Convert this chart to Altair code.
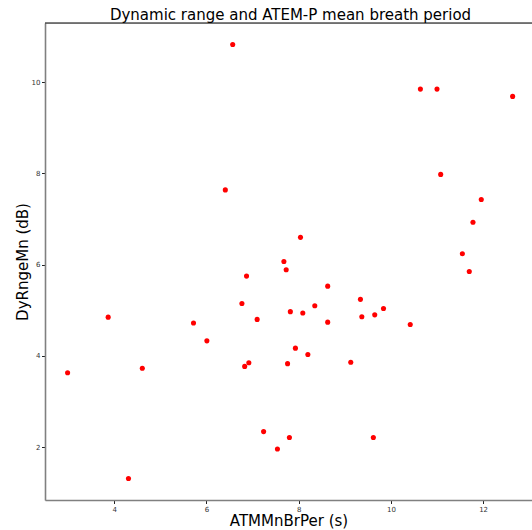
import altair as alt
import pandas as pd

# Data
atm_mn_br_per = [2.99, 3.87, 4.31, 4.61, 5.72, 6.01, 6.41, 6.57, 6.77, 6.83,
                 6.87, 6.92, 7.10, 7.24, 7.54, 7.68, 7.73, 7.76, 7.80, 7.82,
                 7.93, 8.04, 8.09, 8.20, 8.35, 8.63, 8.63, 9.13, 9.34, 9.37,
                 9.62, 9.65, 9.84, 10.42, 10.64, 11.00, 11.08, 11.55, 11.70, 11.78,
                 11.96, 12.64]
dy_rnge_mn = [3.63, 4.85, 1.31, 3.73, 4.72, 4.33, 7.64, 10.83, 5.15, 3.77,
              5.75, 3.85, 4.80, 2.34, 1.96, 6.07, 5.89, 3.83, 2.21, 4.97,
              4.17, 6.60, 4.94, 4.03, 5.10, 5.53, 4.74, 3.86, 5.24, 4.86,
              2.21, 4.90, 5.04, 4.69, 9.85, 9.85, 7.98, 6.24, 5.85, 6.93,
              7.43, 9.69]
x_ticks = [4, 6, 8, 10, 12]
y_ticks = [2, 4, 6, 8, 10]

df = pd.DataFrame({"ATMMnBrPer": atm_mn_br_per, "DyRngeMn": dy_rnge_mn})

W, H = 487, 477
FONT = "DejaVu Sans"

axis_common = dict(
    domainColor="#808080", domainWidth=1.6,
    tickColor="#222222", tickSize=3.5, tickWidth=1,
    labelFont=FONT, labelFontSize=7, labelColor="#333333", labelPadding=1.5,
    grid=False,
    titleFont=FONT, titleFontSize=15, titleFontWeight="normal", titleColor="#000000",
)

points = alt.Chart(df).mark_circle(color="#ff0000", size=26, opacity=1).encode(
    x=alt.X("ATMMnBrPer:Q",
            scale=alt.Scale(domain=[2.5, 13.06], nice=False, zero=False),
            axis=alt.Axis(values=x_ticks, title="ATMMnBrPer (s)",
                          titleY=25.5, titleBaseline="alphabetic", **axis_common)),
    y=alt.Y("DyRngeMn:Q",
            scale=alt.Scale(domain=[0.84, 11.30], nice=False, zero=False),
            axis=alt.Axis(values=y_ticks, title="DyRngeMn (dB)",
                          titleX=-23, titleY=H / 2, titleBaseline="middle",
                          **axis_common)),
)

top_spine = alt.Chart(pd.DataFrame({"k": [0]})).mark_rule(
    color="#000000", strokeWidth=1.2
).encode(x=alt.value(0), x2=alt.value(W), y=alt.value(0))

chart = alt.layer(points, top_spine).properties(
    width=W, height=H,
    title=alt.TitleParams("Dynamic range and ATEM-P mean breath period",
                          font=FONT, fontSize=15, fontWeight="normal",
                          color="#000000", anchor="middle", baseline="alphabetic",
                          offset=4.3, dx=2, dy=17),
    padding={"left": 45, "top": 23, "right": 0, "bottom": 30},
    autosize=alt.AutoSizeParams(type="none"),
).configure_view(stroke=None).configure(background="white")

chart.save("out.html", embed_options={"renderer": "svg", "actions": False})
